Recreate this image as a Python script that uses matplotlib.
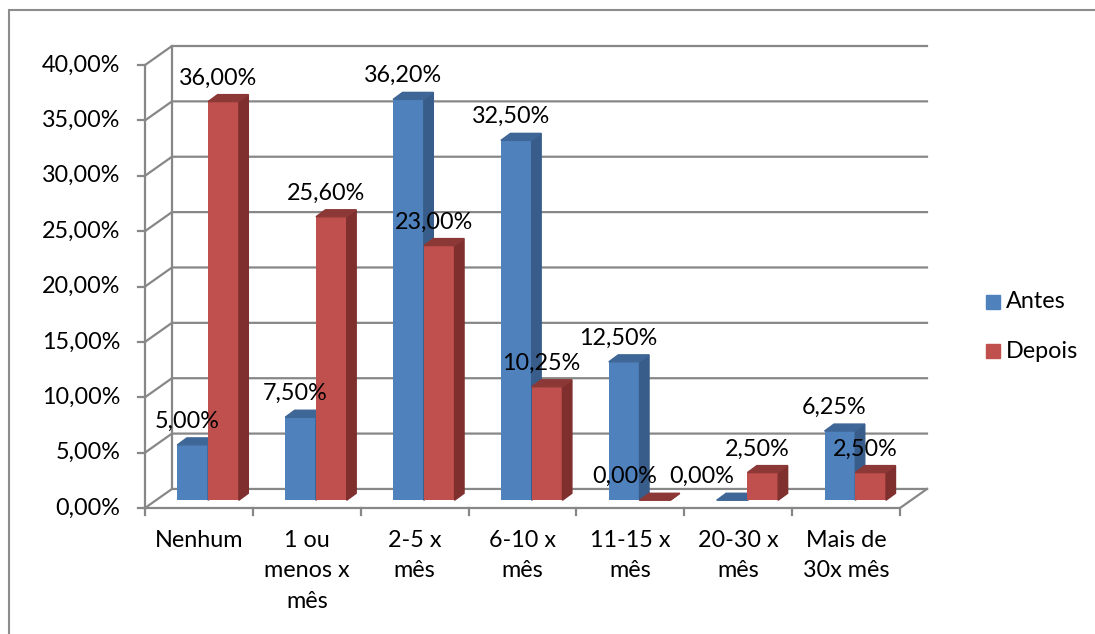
import numpy as np
import matplotlib
matplotlib.use("Agg")
from matplotlib import pyplot as plt
from matplotlib.patches import Polygon, Rectangle

categorias = ["Nenhum", "1 ou\nmenos x\nmês", "2-5 x\nmês", "6-10 x\nmês",
              "11-15 x\nmês", "20-30 x\nmês", "Mais de\n30x mês"]
antes = [5.00, 7.50, 36.20, 32.50, 12.50, 0.00, 6.25]
depois = [36.00, 25.60, 23.00, 10.25, 0.00, 2.50, 2.50]
yticks = [0, 5, 10, 15, 20, 25, 30, 35, 40]

plt.rcParams['font.family'] = ['Lato', 'DejaVu Sans']
FS = 16.8

W, H = 1095, 634
fig = plt.figure(figsize=(W / 100, H / 100), dpi=100)

# chart border (cut off at right/bottom)
fig.patches.append(Rectangle((9 / W, -0.1), 1.2, 1.1 - 10 / H,
                             transform=fig.transFigure, fill=False,
                             edgecolor="#8c8c8c", lw=1.5))

# axes = front plane from x 145..927, y 508..46 px
ax = fig.add_axes([145 / W, (H - 508) / H, (927 - 145) / W, (508 - 46) / H])
n = len(categorias)
bdx, bdy = 0.25, 1.72          # back-wall depth offset (data units)
ax.set_xlim(0, n + bdx)
ax.set_ylim(0, 40 + bdy)
ax.axis("off")

grid = "#878787"
lw = 1.6
# left wall + back wall gridlines
for v in yticks:
    ax.plot([0, bdx, n + bdx], [v, v + bdy, v + bdy], color=grid, lw=lw,
            clip_on=False, zorder=1)
ax.plot([bdx, bdx], [bdy, 40 + bdy], color=grid, lw=lw, clip_on=False, zorder=1)
# front y axis
ax.plot([0, 0], [0, 40], color=grid, lw=lw, clip_on=False, zorder=1)
for v in yticks:
    ax.plot([-0.065, 0], [v, v], color=grid, lw=lw, clip_on=False)
    ax.text(-0.23, v, f"{v:.2f}%".replace(".", ","), ha="right", va="center",
            fontsize=FS)
# floor
ax.plot([0, n, n + bdx], [0, 0, bdy], color=grid, lw=lw, clip_on=False, zorder=1)
for i in range(n + 1):
    ax.plot([i, i], [0, -0.65], color=grid, lw=lw, clip_on=False)

# bars
bw = 0.285
ox, oy = 0.085, 0.7          # bar depth position
ddx, ddy = 0.088, 0.63       # bar depth
x = np.arange(n) + 0.5 + ox
series = [(antes, -bw / 2, "#4F81BD", "#385D8A", "#3E6696"),
          (depois, bw / 2, "#C0504D", "#7F302E", "#8C3836")]
for vals, off, cf, cs, ct in series:
    xs = x + off
    ax.bar(xs, vals, width=bw, bottom=oy, color=cf, zorder=3)
    for xi, v in zip(xs, vals):
        r = xi + bw / 2
        l = xi - bw / 2
        top = oy + v
        ax.add_patch(Polygon([(r, oy), (r + ddx, oy + ddy), (r + ddx, top + ddy), (r, top)],
                             closed=True, color=cs, zorder=3))
        ax.add_patch(Polygon([(l, top), (l + ddx, top + ddy), (r + ddx, top + ddy), (r, top)],
                             closed=True, color=ct, zorder=3))
for vals, off in [(antes, -bw / 2), (depois, bw / 2)]:
    for xi, v in zip(x + off, vals):
        dx = -22 if v == 0 else -4
        ax.annotate(f"{v:.2f}%".replace(".", ","), (xi, oy + v), xytext=(dx, 17),
                    textcoords="offset points", ha="center", va="center",
                    fontsize=FS, zorder=5)

# category labels
for i, c in enumerate(categorias):
    ax.text(i + 0.5, -1.95, c, ha="center", va="top", fontsize=FS, linespacing=1.58)

# legend
for k, (lab, col) in enumerate([("Antes", "#4F81BD"), ("Depois", "#C0504D")]):
    yc = 302 + 49 * k
    fig.patches.append(Rectangle((986 / W, (H - yc - 7) / H), 14 / W, 14 / H,
                                 transform=fig.transFigure, color=col))
    fig.text(1006 / W, (H - yc) / H, lab, ha="left", va="center", fontsize=FS)

fig.savefig("out.png", dpi=100)
